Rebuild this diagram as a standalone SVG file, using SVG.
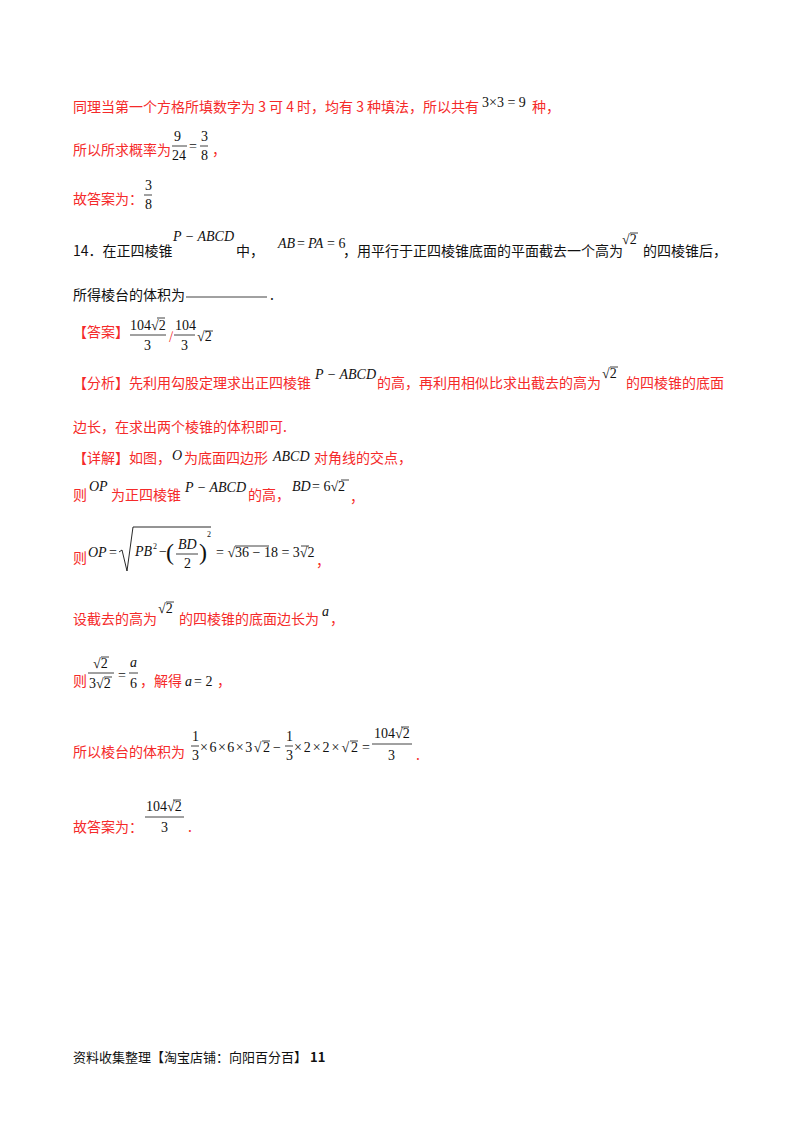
<svg xmlns="http://www.w3.org/2000/svg" width="800" height="1132" viewBox="0 0 800 1132">
<style>
.r{fill:#f52a2a;font-family:"Noto Sans CJK SC","Liberation Serif",sans-serif;font-size:14px}
.k{fill:#111;font-family:"Noto Sans CJK SC","Liberation Serif",sans-serif;font-size:14px}
.m{fill:#111;font-family:"Liberation Serif",serif;font-size:14px}
.i{font-style:italic}
.ln{stroke:#111;stroke-width:0.8}
</style>
<rect width="800" height="1132" fill="#fff"/>
<text class="r" x="73" y="112">同理当第一个方格所填数字为 3 可 4 时，均有 3 种填法，所以共有</text>
<text class="m" x="482" y="107">3×3 = 9</text>
<text class="r" x="532" y="112">种，</text>
<text class="r" x="73" y="155">所以所求概率为</text>
<text class="m" x="174" y="141">9</text><line class="ln" x1="172" y1="146" x2="187" y2="146"/><text class="m" x="172" y="160">24</text>
<text class="m" x="189" y="151">=</text>
<text class="m" x="201" y="141">3</text><line class="ln" x1="200" y1="146" x2="208" y2="146"/><text class="m" x="201" y="160">8</text>
<text class="r" x="212" y="155">，</text>
<text class="r" x="73" y="204">故答案为：</text>
<text class="m" x="145" y="190">3</text><line class="ln" x1="144" y1="195" x2="152" y2="195"/><text class="m" x="145" y="209">8</text>
<text class="k" x="73" y="256">14．在正四棱锥</text>
<text class="m i" x="173" y="241">P − ABCD</text>
<text class="k" x="236" y="256">中，</text>
<text class="m i" x="278" y="248">AB</text><text class="m" x="297" y="248">=</text><text class="m i" x="308" y="248">PA</text><text class="m" x="327" y="248">= 6</text>
<text class="k" x="343" y="256">，用平行于正四棱锥底面的平面截去一个高为</text>
<text class="m" x="622" y="244">√2</text><line class="ln" x1="630" y1="233" x2="638" y2="233"/>
<text class="k" x="643" y="256">的四棱锥后，</text>
<text class="k" x="73" y="300">所得棱台的体积为</text>
<line class="ln" x1="186" y1="297" x2="267" y2="297"/>
<text class="k" x="270" y="300">.</text>
<text class="r" x="73" y="337">【答案】</text>
<text class="m" x="130" y="330">104√2</text><line class="ln" x1="157" y1="318" x2="165" y2="318"/>
<line class="ln" x1="130" y1="335" x2="166" y2="335"/><text class="m" x="144" y="350">3</text>
<text class="r" x="169" y="340" style="font-size:11px">/</text>
<text class="m" x="175" y="330">104</text><line class="ln" x1="174" y1="335" x2="195" y2="335"/><text class="m" x="181" y="350">3</text>
<text class="m" x="197" y="341">√2</text><line class="ln" x1="205" y1="331" x2="213" y2="331"/>
<text class="r" x="73" y="388">【分析】先利用勾股定理求出正四棱锥</text>
<text class="m i" x="315" y="379">P − ABCD</text>
<text class="r" x="377" y="388">的高，再利用相似比求出截去的高为</text>
<text class="m" x="602" y="378">√2</text><line class="ln" x1="610" y1="367" x2="618" y2="367"/>
<text class="r" x="626" y="388">的四棱锥的底面</text>
<text class="r" x="73" y="432">边长，在求出两个棱锥的体积即可.</text>
<text class="r" x="73" y="463">【详解】如图，</text>
<text class="m i" x="172" y="460">O</text>
<text class="r" x="184" y="463">为底面四边形</text>
<text class="m i" x="273" y="461">ABCD</text>
<text class="r" x="314" y="463">对角线的交点，</text>
<text class="r" x="73" y="500">则</text>
<text class="m i" x="89" y="491">OP</text>
<text class="r" x="111" y="500">为正四棱锥</text>
<text class="m i" x="185" y="492">P − ABCD</text>
<text class="r" x="248" y="500">的高，</text>
<text class="m i" x="292" y="491">BD</text><text class="m" x="312" y="491">= 6√2</text><line class="ln" x1="341" y1="480" x2="349" y2="480"/>
<text class="r" x="350" y="502">，</text>
<text class="r" x="73" y="563">则</text>
<text class="m i" x="88" y="557">OP</text><text class="m" x="109" y="557">=</text>
<path d="M119 552 L122 550 L127 571 L133 527 L211 527" fill="none" stroke="#111" stroke-width="0.9"/>
<text class="m i" x="135" y="556">PB</text><text class="m" x="153" y="549" style="font-size:8px">2</text>
<text class="m" x="159" y="556">−</text>
<text class="m" x="166" y="560" style="font-size:24px">(</text>
<text class="m i" x="178" y="549">BD</text><line class="ln" x1="176" y1="554" x2="198" y2="554"/><text class="m" x="184" y="568">2</text>
<text class="m" x="199" y="560" style="font-size:24px">)</text>
<text class="m" x="207" y="537" style="font-size:8px">2</text>
<text class="m" x="216" y="557">= √36 − 18 = 3√2</text>
<line class="ln" x1="235" y1="546" x2="269" y2="546"/><line class="ln" x1="301" y1="546" x2="309" y2="546"/>
<text class="r" x="316" y="566">，</text>
<text class="r" x="73" y="624">设截去的高为</text>
<text class="m" x="158" y="613">√2</text><line class="ln" x1="166" y1="602" x2="174" y2="602"/>
<text class="r" x="179" y="624">的四棱锥的底面边长为</text>
<text class="m i" x="322" y="616">a</text>
<text class="r" x="330" y="624">，</text>
<text class="r" x="73" y="686">则</text>
<text class="m" x="93" y="668">√2</text><line class="ln" x1="101" y1="657" x2="109" y2="657"/>
<line class="ln" x1="88" y1="673" x2="114" y2="673"/>
<text class="m" x="89" y="688">3√2</text><line class="ln" x1="104" y1="677" x2="112" y2="677"/>
<text class="m" x="118" y="680">=</text>
<text class="m i" x="130" y="667">a</text><line class="ln" x1="129" y1="673" x2="138" y2="673"/><text class="m" x="130" y="688">6</text>
<text class="r" x="140" y="686">，解得</text>
<text class="m i" x="185" y="686">a</text><text class="m" x="194" y="686">= 2</text>
<text class="r" x="217" y="686">，</text>
<text class="r" x="73" y="757">所以棱台的体积为</text>
<text class="m" x="192" y="741">1</text><line class="ln" x1="191" y1="746" x2="199" y2="746"/><text class="m" x="192" y="760">3</text>
<text class="m" x="200" y="752" textLength="70" lengthAdjust="spacing">×6×6×3√2</text><line class="ln" x1="262" y1="741" x2="270" y2="741"/>
<text class="m" x="273" y="752">−</text>
<text class="m" x="286" y="741">1</text><line class="ln" x1="285" y1="746" x2="293" y2="746"/><text class="m" x="286" y="760">3</text>
<text class="m" x="294" y="752" textLength="64" lengthAdjust="spacing">×2×2×√2</text><line class="ln" x1="350" y1="741" x2="358" y2="741"/>
<text class="m" x="362" y="752">=</text>
<text class="m" x="374" y="738">104√2</text><line class="ln" x1="401" y1="727" x2="409" y2="727"/>
<line class="ln" x1="372" y1="744" x2="412" y2="744"/><text class="m" x="388" y="760">3</text>
<text class="r" x="416" y="760">.</text>
<text class="r" x="73" y="832">故答案为：</text>
<text class="m" x="146" y="811">104√2</text><line class="ln" x1="173" y1="800" x2="181" y2="800"/>
<line class="ln" x1="145" y1="817" x2="184" y2="817"/><text class="m" x="161" y="832">3</text>
<text class="r" x="188" y="832">.</text>
<text class="k" x="73" y="1062" style="font-size:13px">资料收集整理【淘宝店铺：向阳百分百】</text>
<text class="k" x="310" y="1062" style="font-size:13px;font-weight:bold">11</text>
</svg>
